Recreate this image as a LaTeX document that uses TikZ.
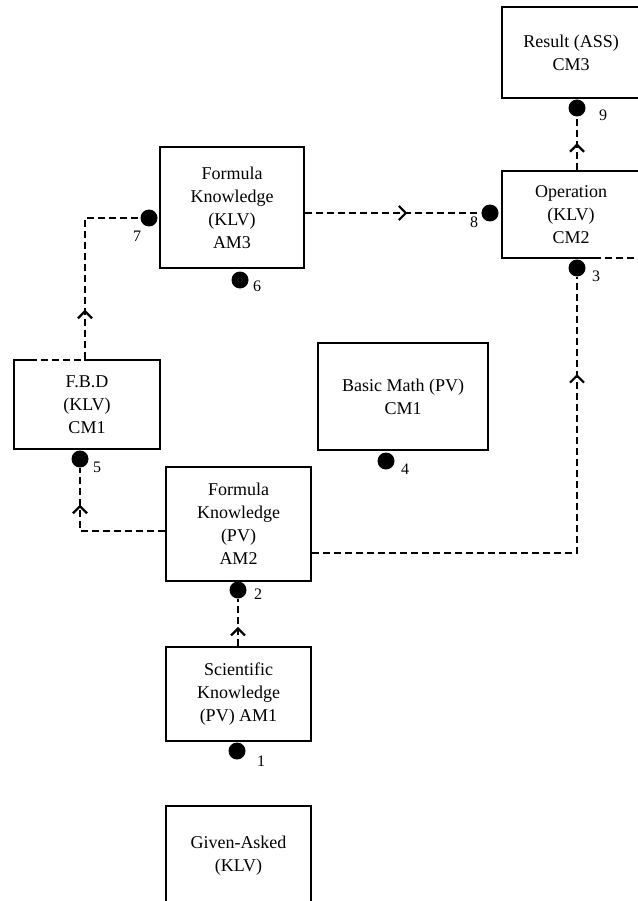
\documentclass[tikz,border=0pt]{standalone}
\usepackage{fontspec}
\setmainfont{Liberation Serif}
\usetikzlibrary{arrows.meta,decorations.markings,calc}
\begin{document}
\begin{tikzpicture}[x=1pt,y=-1pt,
 box/.style={draw, line width=2.6pt, align=center, font=\fontsize{18}{23}\selectfont, inner sep=0pt},
 dot/.style={circle, fill, minimum size=17pt, inner sep=0pt},
 num/.style={font=\fontsize{16}{16}\selectfont, inner sep=0pt},
 conn/.style={line width=2.4pt, dash pattern=on 7pt off 4pt},
 midarrow/.style={postaction={decorate}, decoration={markings, mark=at position #1 with {\arrow[solid,line width=2.2pt]{Straight Barb[length=7pt,width=14pt]}}}}
]
\useasboundingbox (0,0) rectangle (637,901);

% boxes
\node[box, minimum width=138pt, minimum height=91pt] (res) at (571,52.5) {Result (ASS)\\CM3};
\node[box, minimum width=138pt, minimum height=87pt] (op) at (571,214.5) {Operation\\(KLV)\\CM2};
\node[box, minimum width=144pt, minimum height=121pt] (fk) at (232,207.5) {Formula\\Knowledge\\(KLV)\\AM3};
\node[box, minimum width=146pt, minimum height=89pt] (fbd) at (87,404.5) {F.B.D\\(KLV)\\CM1};
\node[box, minimum width=170pt, minimum height=107pt] (bm) at (403,396.5) {Basic Math (PV)\\CM1};
\node[box, minimum width=145pt, minimum height=114pt] (fpv) at (238.5,524) {Formula\\Knowledge\\(PV)\\AM2};
\node[box, minimum width=145pt, minimum height=94pt] (sk) at (238.5,694) {Scientific\\Knowledge\\(PV) AM1};
\node[box, minimum width=145pt, minimum height=99pt] (ga) at (238.5,855.5) {Given-Asked\\(KLV)};

% dashed fragments on box edges
\draw[white, line width=3.4pt] (594,258) -- (640,258);
\draw[conn] (594,258) -- (640,258);
\draw[white, line width=3.4pt] (30,360) -- (84,360);
\draw[conn] (30,360) -- (84,360);

% dots
\node[dot] (d9) at (577,108) {};
\node[dot] (d8) at (490,213) {};
\node[dot] (d3) at (577,268) {};
\node[dot] (d7) at (149,218) {};
\node[dot] (d6) at (240,280) {};
\node[dot] (d5) at (80,459) {};
\node[dot] (d4) at (386,461) {};
\node[dot] (d2) at (238,590) {};
\node[dot] (d1) at (237,751) {};

% numbers
\node[num] (n9) at (603,115) {9};
\node[num] (n8) at (474,222) {8};
\node[num] (n3) at (596,276) {3};
\node[num] (n7) at (137,236) {7};
\node[num] (n6) at (257,286) {6};
\node[num] (n5) at (97,467) {5};
\node[num] (n4) at (405,469) {4};
\node[num] (n2) at (258,594) {2};
\node[num] (n1) at (261,761) {1};

% connectors
\draw[conn, midarrow=0.5] (op.north -| d9) -- (d9);
\draw[conn, midarrow=0.58] (fk.east |- d8) -- (d8);
\draw[conn, midarrow=0.82] ($(fpv.east)+(0,29)$) -| (d3);
\draw[conn, midarrow=0.75] ($(fpv.west)+(0,7)$) -| (d5);
\draw[conn, midarrow=0.25] ($(fbd.north)+(-2,0)$) |- (d7);
\draw[conn, midarrow=0.4] (sk.north -| d2) -- (d2);
\end{tikzpicture}
\end{document}
